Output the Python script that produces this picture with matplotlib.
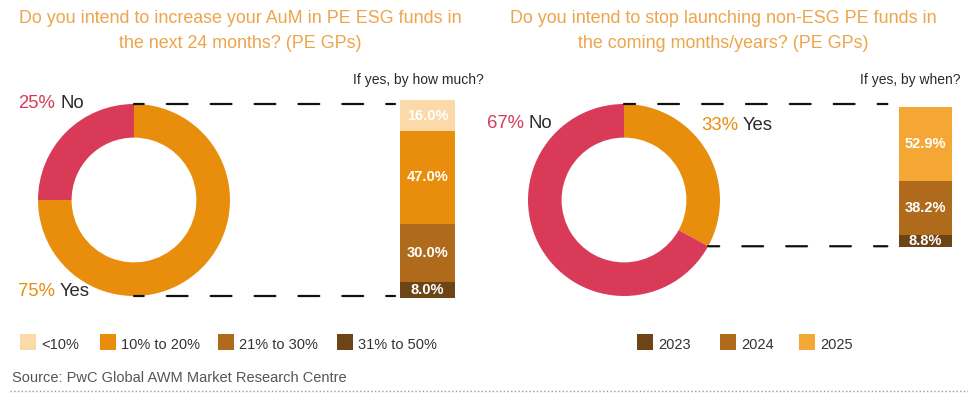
import numpy as np
import matplotlib
matplotlib.use("Agg")
import matplotlib.pyplot as plt
from matplotlib.lines import Line2D
from matplotlib.patches import ConnectionPatch, Rectangle
from matplotlib.transforms import blended_transform_factory

plt.rcParams["font.family"] = ["Liberation Sans", "DejaVu Sans"]
plt.rcParams["lines.scale_dashes"] = False

# --- donnees ---
aum_answers = ["Yes", "No"]
aum_share = [75, 25]
aum_bins = ["<10%", "10% to 20%", "21% to 30%", "31% to 50%"]
aum_bin_share = [16.0, 47.0, 30.0, 8.0]

stop_answers = ["Yes", "No"]
stop_share = [33, 67]
stop_years = ["2023", "2024", "2025"]
stop_year_share = [8.8, 38.2, 52.9]

title_left = "Do you intend to increase your AuM in PE ESG funds in\nthe next 24 months? (PE GPs)"
title_right = "Do you intend to stop launching non-ESG PE funds in\nthe coming months/years? (PE GPs)"
source = "Source: PwC Global AWM Market Research Centre"

# --- couleurs ---
RED = "#D83A58"
ORANGE = "#E88E0C"
TITLE = "#EDA54C"
DARK = "#2A2A2A"
aum_colors = ["#FCD9A8", "#E88E0C", "#B06A1B", "#6D4416"]
year_colors = ["#6D4416", "#B06A1B", "#F4A734"]

W, H = 968, 394
fig = plt.figure(figsize=(W / 100, H / 100), dpi=100)


def fx(px):
    return px / W


def fy(py):
    return 1 - py / H


def rect(x0, y0, x1, y1):
    return [fx(x0), fy(y1), fx(x1) - fx(x0), fy(y0) - fy(y1)]


def donut(box, shares, colors):
    ax = fig.add_axes(rect(*box))
    ax.pie(shares, colors=colors, startangle=90, counterclock=False,
           wedgeprops=dict(width=0.35, linewidth=0))
    ax.set_xlim(-1, 1)
    ax.set_ylim(-1, 1)
    return ax


def stack(box, values, colors):
    # empile de bas en haut
    ax = fig.add_axes(rect(*box))
    bottom = 0
    for v, c in zip(values, colors):
        bars = ax.bar(0, v, bottom=bottom, width=1, color=c, linewidth=0)
        ax.bar_label(bars, labels=[f"{v:.1f}%"], label_type="center",
                     color="white", fontweight="bold", fontsize=10.5)
        bottom += v
    ax.set_xlim(-0.5, 0.5)
    ax.set_ylim(0, bottom)
    ax.axis("off")
    return ax


def connector(ax_pie, ax_bar, angle, gap, offset):
    a = np.radians(angle)
    x0, y0 = np.cos(a), np.sin(a)
    trans = blended_transform_factory(ax_bar.transData, ax_pie.transData)
    cp = ConnectionPatch(xyA=(x0, y0), coordsA=ax_pie.transData,
                         xyB=(-0.5 - gap, y0), coordsB=trans,
                         arrowstyle="-", shrinkA=0, shrinkB=0,
                         color="#111111", lw=1.6,
                         linestyle=(offset, (15.0, 16.6)))
    fig.add_artist(cp)


# --- graphique de gauche ---
pie_l = donut((38, 104, 230, 296), aum_share, [ORANGE, RED])
bar_l = stack((400, 100, 455, 298), aum_bin_share[::-1], aum_colors[::-1])
connector(pie_l, bar_l, 90, 0.09, 8)
connector(pie_l, bar_l, -90, 0.09, 8)

# --- graphique de droite ---
pie_r = donut((528, 104, 720, 296), stop_share, [ORANGE, RED])
bar_r = stack((899, 107, 952, 247), stop_year_share, year_colors)
connector(pie_r, bar_r, 90, 0.22, 7)
connector(pie_r, bar_r, 90 - 360 * stop_share[0] / 100, 0.22, 7)

# --- titres ---
for x, t in [(240, title_left), (723, title_right)]:
    fig.text(fx(x), fy(31), t, ha="center", va="center", color=TITLE,
             fontsize=12.9, linespacing=1.65)

fig.text(fx(484), fy(80), "If yes, by how much?", ha="right", va="center",
         fontsize=10, color=DARK)
fig.text(fx(961), fy(80), "If yes, by when?", ha="right", va="center",
         fontsize=10, color=DARK)

# --- etiquettes des anneaux ---
def answer(x, y, pct, color, name):
    fig.text(fx(x), fy(y), f"{pct}%", color=color, fontsize=13.3,
             ha="left", va="center")
    fig.text(fx(x + 42), fy(y), name, color=DARK, fontsize=13.3,
             ha="left", va="center")


answer(18, 103, aum_share[1], RED, aum_answers[1])
answer(18, 292, aum_share[0], ORANGE, aum_answers[0])
answer(487, 123, stop_share[1], RED, stop_answers[1])
answer(701, 125, stop_share[0], ORANGE, stop_answers[0])

# --- legendes ---
leg_l_x = [20, 100, 218, 337]
leg_r_x = [637, 720, 799]
for xs, names, cols in [(leg_l_x, aum_bins, aum_colors),
                        (leg_r_x, stop_years, year_colors)]:
    for x, n, c in zip(xs, names, cols):
        fig.add_artist(Rectangle((fx(x), fy(350)), fx(16), 16 / H,
                                 transform=fig.transFigure, color=c, lw=0))
        fig.text(fx(x + 21), fy(345), n, fontsize=10.5, color="#333333",
                 ha="left", va="center")

# --- source ---
fig.text(fx(12), fy(378), source, fontsize=10.5, color="#555555",
         ha="left", va="center")
fig.add_artist(Line2D([fx(10), 1], [fy(391), fy(391)],
                      transform=fig.transFigure, ls=":", color="#9a9a9a", lw=1))

fig.savefig("out.png", dpi=100)
